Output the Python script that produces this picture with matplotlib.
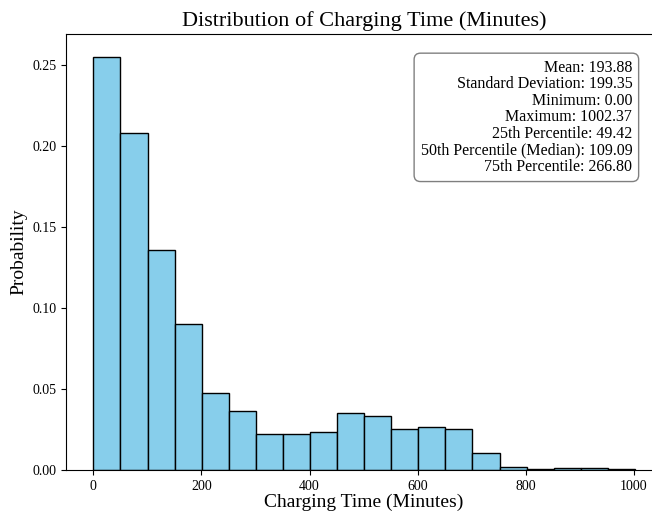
import numpy as np
import matplotlib.pyplot as plt

plt.rcParams['font.family'] = ['Liberation Serif', 'DejaVu Serif']

# 충전 시간 히스토그램 (20 bins, probability)
bin_min = 0.0
bin_max = 1002.37
probs = [0.2549, 0.2081, 0.1355, 0.0899, 0.0474, 0.0363, 0.0220, 0.0220, 0.0234, 0.0353,
         0.0334, 0.0252, 0.0265, 0.0252, 0.0103, 0.0020, 0.0004, 0.0010, 0.0010, 0.0004]

stats_labels = ['Mean', 'Standard Deviation', 'Minimum', 'Maximum',
                '25th Percentile', '50th Percentile (Median)', '75th Percentile']
stats_values = [193.88, 199.35, 0.00, 1002.37, 49.42, 109.09, 266.80]

edges = np.linspace(bin_min, bin_max, len(probs) + 1)

fig = plt.figure(figsize=(6.52, 5.14), dpi=100)
ax = fig.add_axes([0.1017, 0.0856, 0.9137, 0.8477])
ax.bar(edges[:-1], probs, width=np.diff(edges), align='edge',
       color='skyblue', edgecolor='black', linewidth=1)
ax.margins(x=0.05, y=0.05)
ax.set_ylim(0, max(probs) * 1.054)

ax.set_title('Distribution of Charging Time (Minutes)', fontsize=16)
ax.set_xlabel('Charging Time (Minutes)', fontsize=14, labelpad=1)
ax.set_ylabel('Probability', fontsize=14)
ax.tick_params(labelsize=10)

text = '\n'.join(f'{l}: {v:.2f}' for l, v in zip(stats_labels, stats_values))
ax.text(0.95, 0.942, text, transform=ax.transAxes, ha='right', va='top', fontsize=11.5,
        linespacing=1.05,
        bbox=dict(boxstyle='round,pad=0.4', facecolor='white', alpha=0.5))

fig.savefig('out.png', dpi=100)
